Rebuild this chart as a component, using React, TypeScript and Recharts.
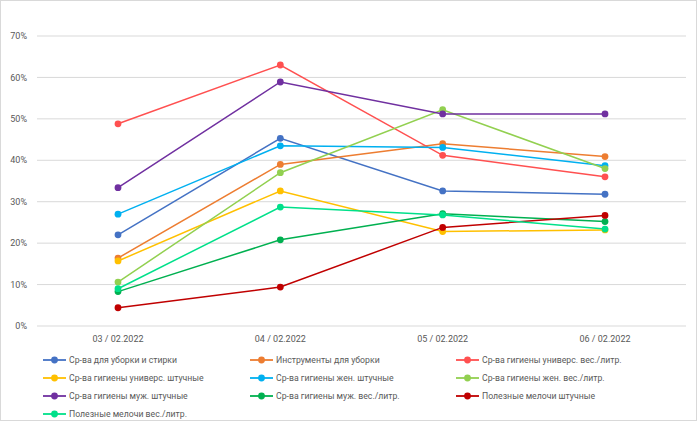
import React from "react";
import { CartesianGrid, Line, LineChart, XAxis, YAxis } from "recharts";

const categories = ["03 / 02.2022", "04 / 02.2022", "05 / 02.2022", "06 / 02.2022"];

const seriesNames = [
  "Ср-ва для уборки и стирки",
  "Инструменты для уборки",
  "Ср-ва гигиены универс. вес./литр.",
  "Ср-ва гигиены универс. штучные",
  "Ср-ва гигиены жен. штучные",
  "Ср-ва гигиены жен. вес./литр.",
  "Ср-ва гигиены муж. штучные",
  "Ср-ва гигиены муж. вес./литр.",
  "Полезные мелочи штучные",
  "Полезные мелочи вес./литр.",
];

const cleaning = [22.0, 45.3, 32.6, 31.8];
const tools = [16.4, 39.0, 44.0, 40.9];
const hygUniWeight = [48.8, 63.0, 41.2, 36.0];
const hygUniPiece = [15.7, 32.6, 22.8, 23.2];
const hygFemPiece = [27.0, 43.5, 43.1, 38.7];
const hygFemWeight = [10.6, 37.0, 52.2, 38.0];
const hygMalePiece = [33.4, 58.9, 51.2, 51.2];
const hygMaleWeight = [8.3, 20.8, 27.1, 25.2];
const usefulPiece = [4.4, 9.4, 23.8, 26.7];
const usefulWeight = [9.0, 28.7, 26.8, 23.4];

const seriesValues = [
  cleaning,
  tools,
  hygUniWeight,
  hygUniPiece,
  hygFemPiece,
  hygFemWeight,
  hygMalePiece,
  hygMaleWeight,
  usefulPiece,
  usefulWeight,
];

const yTicks = [0, 10, 20, 30, 40, 50, 60, 70];

const colors = [
  "#4472C4",
  "#ED7D31",
  "#FF5050",
  "#FFC000",
  "#00B0F0",
  "#92D050",
  "#7030A0",
  "#00B050",
  "#C00000",
  "#00E08A",
];

const chartData = categories.map((cat, i) => {
  const row: Record<string, string | number> = { cat };
  seriesValues.forEach((vals, s) => {
    row[`s${s}`] = vals[i];
  });
  return row;
});

const FONT = "Roboto, 'Open Sans', sans-serif";
const TEXT = "#595959";

// legend is drawn as plain html so it doesn't push the plot area up
function LegendBlock() {
  return (
    <div style={{ position: "absolute", left: 0, top: 351, width: 700 }}>
      {seriesNames.map((name, i) => {
        const col = i % 3;
        const row = Math.floor(i / 3);
        const left = [43, 250, 456][col];
        return (
          <div
            key={name}
            style={{
              position: "absolute",
              left,
              top: row * 18,
              height: 18,
              display: "flex",
              alignItems: "center",
              whiteSpace: "nowrap",
            }}
          >
            <svg width={24} height={10} style={{ marginRight: 2 }}>
              <line x1={0} y1={5} x2={23} y2={5} stroke={colors[i]} strokeWidth={1.8} />
              <circle cx={11.5} cy={5} r={3.4} fill={colors[i]} />
            </svg>
            <span style={{ fontFamily: FONT, fontSize: 8.7, color: TEXT }}>{name}</span>
          </div>
        );
      })}
    </div>
  );
}

export default function App() {
  return (
    <div
      style={{
        position: "fixed",
        left: 0,
        top: 0,
        width: 700,
        height: 423,
        background: "#fff",
      }}
    >
      <div
        style={{
          position: "absolute",
          left: 0,
          top: 0,
          width: 697,
          height: 421,
          border: "1px solid #D9D9D9",
          boxSizing: "border-box",
        }}
      />
      <LineChart
        width={700}
        height={423}
        data={chartData}
        margin={{ top: 36, right: 14, left: 0, bottom: 77 }}
      >
        <CartesianGrid vertical={false} stroke="#D9D9D9" strokeWidth={1} />
        <XAxis
          dataKey="cat"
          axisLine={false}
          tickLine={false}
          tickSize={0}
          tickMargin={10}
          height={20}
          interval={0}
          padding={{ left: 81, right: 81 }}
          tick={{ fill: TEXT, fontSize: 9, fontFamily: FONT }}
        />
        <YAxis
          width={37}
          domain={[0, 70]}
          ticks={yTicks}
          axisLine={false}
          tickLine={false}
          tickSize={0}
          tickMargin={10}
          tickFormatter={(v) => `${v}%`}
          tick={{ fill: TEXT, fontSize: 9, fontFamily: FONT }}
        />
        {seriesNames.map((name, s) => (
          <Line
            key={name}
            name={name}
            dataKey={`s${s}`}
            type="linear"
            stroke={colors[s]}
            strokeWidth={1.5}
            dot={{ r: 3.4, fill: colors[s], stroke: colors[s], strokeWidth: 0 }}
            activeDot={false}
            isAnimationActive={false}
          />
        ))}
      </LineChart>
      <LegendBlock />
    </div>
  );
}
